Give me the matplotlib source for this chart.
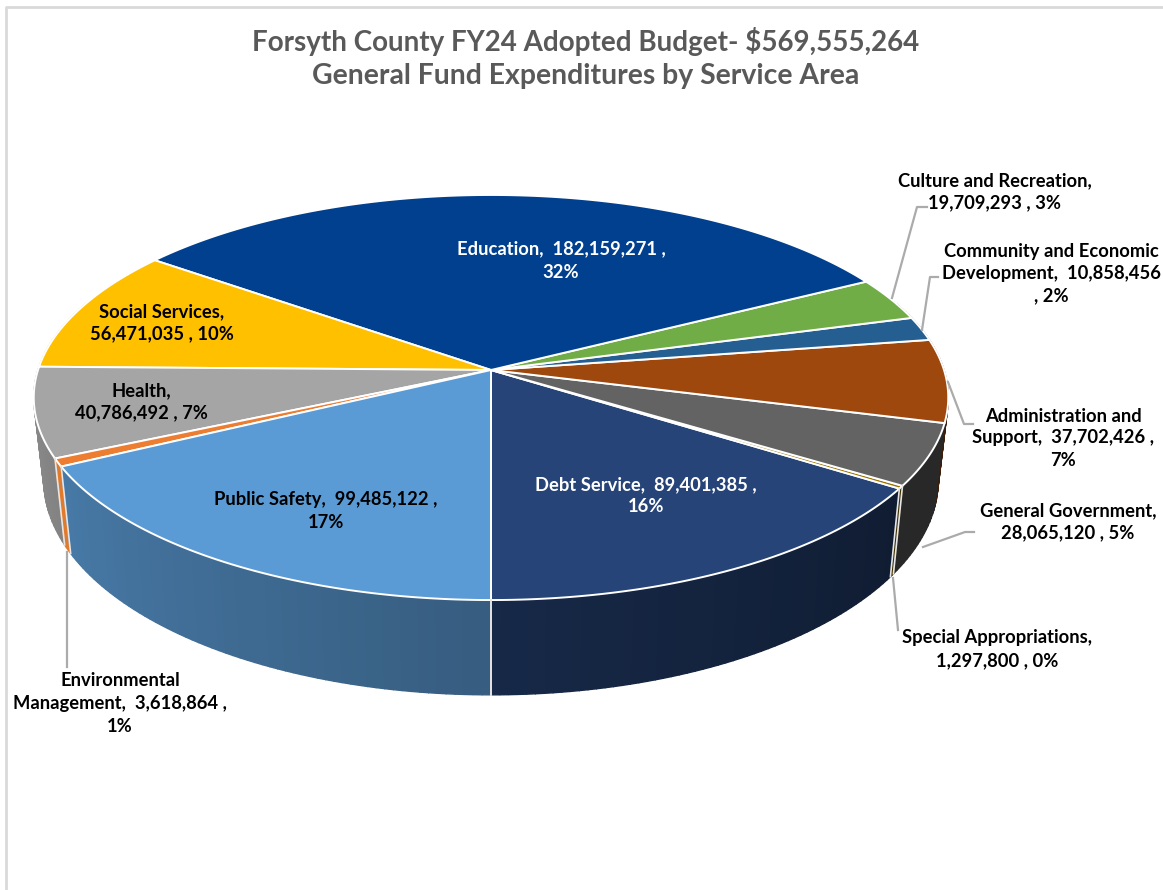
import numpy as np
import matplotlib
matplotlib.use('Agg')
import matplotlib.pyplot as plt

# slices, counterclockwise starting from the front of the pie
areas = ['Debt Service', 'Special Appropriations', 'General Government',
         'Administration and Support', 'Community and Economic Development',
         'Culture and Recreation', 'Education', 'Social Services', 'Health',
         'Environmental Management', 'Public Safety']
amounts = [89401385, 1297800, 28065120, 37702426, 10858456, 19709293,
           182159271, 56471035, 40786492, 3618864, 99485122]
colors = ['#264478', '#997300', '#636363', '#9E480E', '#255E91', '#70AD47',
          '#01408F', '#FFC000', '#A5A5A5', '#ED7D31', '#5B9BD5']

title_lines = ['Forsyth County FY24 Adopted Budget- $569,555,264',
               'General Fund Expenditures by Service Area']

# perspective of the tilted pie, in pixels
cx, cy = 491, 370
rx, ry, persp = 453, 198.8, 0.1358

plt.rcParams['font.family'] = ['Lato', 'DejaVu Sans']


def top_point(theta):
    u, v = np.cos(theta), np.sin(theta)
    w = 1 + persp * v
    return rx * u / w, ry * v / w


def rim_xy(theta):
    x, y = top_point(theta)
    return cx + x, cy - y


def floor_xy(theta):
    x, y = top_point(theta)
    return cx + 0.978 * x, cy - (1.06 * y - 81)


def shade(color, theta):
    # wall gets darker from left to right
    deg = np.degrees(theta)
    if deg > 90:
        deg -= 360
    f = np.interp(deg, [-190, -165, -90, -30, 20], [0.84, 0.82, 0.60, 0.40, 0.40])
    return tuple(c * f for c in matplotlib.colors.to_rgb(color))


fig = plt.figure(figsize=(11.63, 8.9), dpi=100)
ax = fig.add_axes([0, 0, 1, 1])
ax.set_xlim(0, 1163)
ax.set_ylim(890, 0)
ax.axis('off')

# chart frame
ax.plot([6, 6, 1163], [890, 7, 7], color='#D9D9D9', lw=2)

shares = np.array(amounts) / sum(amounts)
edges = -np.pi / 2 + 2 * np.pi * np.concatenate([[0], np.cumsum(shares)])

# side wall, back to front
quads = []
for i in range(len(amounts)):
    n = max(2, int(np.degrees(edges[i + 1] - edges[i])) + 1)
    t = np.linspace(edges[i], edges[i + 1], n + 1)
    for a, b in zip(t[:-1], t[1:]):
        if np.sin((a + b) / 2) < 0.35:
            quads.append((a, b, colors[i]))
quads.sort(key=lambda q: -np.sin((q[0] + q[1]) / 2))
for a, b, col in quads:
    x0, y0 = rim_xy(a)
    x1, y1 = rim_xy(b)
    x2, y2 = floor_xy(b)
    x3, y3 = floor_xy(a)
    c = shade(col, (a + b) / 2)
    if col == '#ED7D31':
        c = '#E07B2E'
    ax.fill([x0, x1, x2, x3], [y0, y1, y2, y3], color=c, lw=1.0)

# wall separators
for e in edges:
    if np.sin(e) < -0.3:
        x0, y0 = rim_xy(e)
        x1, y1 = floor_xy(e)
        ax.plot([x0, x1], [y0, y1], color='#E6E6E6', lw=1.2)

# top face
for i in range(len(amounts)):
    t = np.linspace(edges[i], edges[i + 1], 200)
    x, y = rim_xy(t)
    ax.fill(np.r_[cx, x], np.r_[cy, y], facecolor=colors[i], edgecolor='white', lw=1.4)

# leader lines
leaders = [([892, 917, 927], [298, 207, 207]),
           ([922, 930, 938], [330, 277, 277]),
           ([948, 964, 973], [382, 424, 424]),
           ([923, 965, 974], [547, 532, 532]),
           ([893, 898], [578, 630]),
           ([67, 67], [552, 667])]
for lx, ly in leaders:
    ax.plot(lx, ly, color='#ABABAB', lw=1.6)

# title
for line, y, size in zip(title_lines, [41, 76], [20, 20.4]):
    ax.text(586, y, line, ha='center', va='center', fontsize=size, fontweight='bold', color='#595959')

# data labels
labels = [
    (561, [248, 271], ['Education,  182,159,271 ,', '32%'], 'white'),
    (162, [311, 333], ['Social Services,', '56,471,035 , 10%'], 'black'),
    (141, [390, 412], ['Health,', '40,786,492 , 7%'], 'black'),
    (326, [499, 522], ['Public Safety,  99,485,122 ,', '17%'], 'black'),
    (646, [484, 506], ['Debt Service,  89,401,385 ,', '16%'], 'white'),
    (995, [180, 202], ['Culture and Recreation,', '19,709,293 , 3%'], 'black'),
    (1051, [250, 272, 295], ['Community and Economic', 'Development,  10,858,456', ', 2%'], 'black'),
    (1063, [415, 437, 460], ['Administration and', 'Support,  37,702,426 ,', '7%'], 'black'),
    (1068, [510, 532], ['General Government,', '28,065,120 , 5%'], 'black'),
    (997, [637, 660], ['Special Appropriations,', '1,297,800 , 0%'], 'black'),
    (120, [680, 702, 725], ['Environmental', 'Management,  3,618,864 ,', '1%'], 'black'),
]
for x, ys, lines, col in labels:
    for y, line in zip(ys, lines):
        ax.text(x, y + 1, line, ha='center', va='center', fontsize=13.2, fontweight='bold', color=col)

fig.savefig('out.png', dpi=100)
